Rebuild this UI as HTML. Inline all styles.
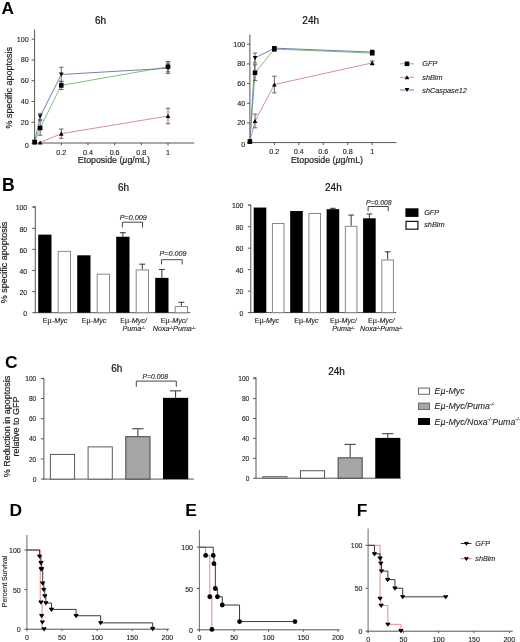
<!DOCTYPE html>
<html><head><meta charset="utf-8"><style>
html,body{margin:0;padding:0;background:#fff;width:520px;height:642px;overflow:hidden}
svg{display:block;filter:blur(0.3px);font-family:"Liberation Sans",sans-serif}
</style></head><body>
<svg width="520" height="642" viewBox="0 0 520 642">
<rect width="520" height="642" fill="#fff"/>
<text x="1.60" y="14.30" font-size="17.2" text-anchor="start" font-style="normal" font-weight="bold" fill="#000" >A</text>
<line x1="34.60" y1="29.50" x2="34.60" y2="143.50" stroke="#555" stroke-width="1"/>
<line x1="34.10" y1="143.00" x2="194.30" y2="143.00" stroke="#555" stroke-width="1"/>
<line x1="31.60" y1="143.00" x2="34.60" y2="143.00" stroke="#555" stroke-width="1"/>
<text x="28.70" y="147.50" font-size="7.2" text-anchor="end" font-style="normal" font-weight="normal" fill="#222" stroke="#222" stroke-width="0.12" >0</text>
<line x1="31.60" y1="122.24" x2="34.60" y2="122.24" stroke="#555" stroke-width="1"/>
<text x="28.70" y="124.74" font-size="7.2" text-anchor="end" font-style="normal" font-weight="normal" fill="#222" stroke="#222" stroke-width="0.12" >20</text>
<line x1="31.60" y1="101.48" x2="34.60" y2="101.48" stroke="#555" stroke-width="1"/>
<text x="28.70" y="103.98" font-size="7.2" text-anchor="end" font-style="normal" font-weight="normal" fill="#222" stroke="#222" stroke-width="0.12" >40</text>
<line x1="31.60" y1="80.72" x2="34.60" y2="80.72" stroke="#555" stroke-width="1"/>
<text x="28.70" y="83.22" font-size="7.2" text-anchor="end" font-style="normal" font-weight="normal" fill="#222" stroke="#222" stroke-width="0.12" >60</text>
<line x1="31.60" y1="59.96" x2="34.60" y2="59.96" stroke="#555" stroke-width="1"/>
<text x="28.70" y="62.46" font-size="7.2" text-anchor="end" font-style="normal" font-weight="normal" fill="#222" stroke="#222" stroke-width="0.12" >80</text>
<line x1="31.60" y1="39.20" x2="34.60" y2="39.20" stroke="#555" stroke-width="1"/>
<text x="28.70" y="41.70" font-size="7.2" text-anchor="end" font-style="normal" font-weight="normal" fill="#222" stroke="#222" stroke-width="0.12" >100</text>
<line x1="61.28" y1="143.00" x2="61.28" y2="145.50" stroke="#555" stroke-width="1"/>
<text x="61.28" y="154.80" font-size="7.2" text-anchor="middle" font-style="normal" font-weight="normal" fill="#222" stroke="#222" stroke-width="0.12" >0.2</text>
<line x1="87.96" y1="143.00" x2="87.96" y2="145.50" stroke="#555" stroke-width="1"/>
<text x="87.96" y="154.80" font-size="7.2" text-anchor="middle" font-style="normal" font-weight="normal" fill="#222" stroke="#222" stroke-width="0.12" >0.4</text>
<line x1="114.64" y1="143.00" x2="114.64" y2="145.50" stroke="#555" stroke-width="1"/>
<text x="114.64" y="154.80" font-size="7.2" text-anchor="middle" font-style="normal" font-weight="normal" fill="#222" stroke="#222" stroke-width="0.12" >0.6</text>
<line x1="141.32" y1="143.00" x2="141.32" y2="145.50" stroke="#555" stroke-width="1"/>
<text x="141.32" y="154.80" font-size="7.2" text-anchor="middle" font-style="normal" font-weight="normal" fill="#222" stroke="#222" stroke-width="0.12" >0.8</text>
<line x1="168.00" y1="143.00" x2="168.00" y2="145.50" stroke="#555" stroke-width="1"/>
<text x="168.00" y="154.80" font-size="7.2" text-anchor="middle" font-style="normal" font-weight="normal" fill="#222" stroke="#222" stroke-width="0.12" >1</text>
<text x="113.90" y="163.40" font-size="8.8" text-anchor="middle" font-style="normal" font-weight="normal" fill="#222" stroke="#222" stroke-width="0.2" >Etoposide (<tspan font-style="italic">&#181;</tspan>g/mL)</text>
<text x="100.60" y="24.40" font-size="10" text-anchor="middle" font-style="normal" font-weight="normal" fill="#111" stroke="#111" stroke-width="0.2" >6h</text>
<path d="M34.60,142.48 L40.20,142.48 L61.28,133.66 L168.00,116.01" fill="none" stroke="#d48cb4" stroke-width="1"/>
<path d="M34.60,141.96 L40.20,127.95 L61.28,85.39 L168.00,66.71" fill="none" stroke="#80c080" stroke-width="1"/>
<path d="M34.60,141.96 L40.20,116.53 L61.28,74.49 L168.00,68.26" fill="none" stroke="#7480b0" stroke-width="1"/>
<line x1="61.28" y1="138.33" x2="61.28" y2="128.99" stroke="#444" stroke-width="0.8"/>
<line x1="59.08" y1="128.99" x2="63.48" y2="128.99" stroke="#444" stroke-width="0.8"/>
<line x1="59.08" y1="138.33" x2="63.48" y2="138.33" stroke="#444" stroke-width="0.8"/>
<line x1="168.00" y1="123.80" x2="168.00" y2="108.23" stroke="#444" stroke-width="0.8"/>
<line x1="165.80" y1="108.23" x2="170.20" y2="108.23" stroke="#444" stroke-width="0.8"/>
<line x1="165.80" y1="123.80" x2="170.20" y2="123.80" stroke="#444" stroke-width="0.8"/>
<line x1="40.20" y1="135.22" x2="40.20" y2="120.68" stroke="#444" stroke-width="0.8"/>
<line x1="38.00" y1="120.68" x2="42.40" y2="120.68" stroke="#444" stroke-width="0.8"/>
<line x1="38.00" y1="135.22" x2="42.40" y2="135.22" stroke="#444" stroke-width="0.8"/>
<line x1="61.28" y1="89.54" x2="61.28" y2="81.24" stroke="#444" stroke-width="0.8"/>
<line x1="59.08" y1="81.24" x2="63.48" y2="81.24" stroke="#444" stroke-width="0.8"/>
<line x1="59.08" y1="89.54" x2="63.48" y2="89.54" stroke="#444" stroke-width="0.8"/>
<line x1="168.00" y1="71.90" x2="168.00" y2="61.52" stroke="#444" stroke-width="0.8"/>
<line x1="165.80" y1="61.52" x2="170.20" y2="61.52" stroke="#444" stroke-width="0.8"/>
<line x1="165.80" y1="71.90" x2="170.20" y2="71.90" stroke="#444" stroke-width="0.8"/>
<line x1="40.20" y1="119.64" x2="40.20" y2="113.42" stroke="#444" stroke-width="0.8"/>
<line x1="38.00" y1="113.42" x2="42.40" y2="113.42" stroke="#444" stroke-width="0.8"/>
<line x1="38.00" y1="119.64" x2="42.40" y2="119.64" stroke="#444" stroke-width="0.8"/>
<line x1="61.28" y1="81.76" x2="61.28" y2="67.23" stroke="#444" stroke-width="0.8"/>
<line x1="59.08" y1="67.23" x2="63.48" y2="67.23" stroke="#444" stroke-width="0.8"/>
<line x1="59.08" y1="81.76" x2="63.48" y2="81.76" stroke="#444" stroke-width="0.8"/>
<line x1="168.00" y1="73.45" x2="168.00" y2="63.07" stroke="#444" stroke-width="0.8"/>
<line x1="165.80" y1="63.07" x2="170.20" y2="63.07" stroke="#444" stroke-width="0.8"/>
<line x1="165.80" y1="73.45" x2="170.20" y2="73.45" stroke="#444" stroke-width="0.8"/>
<path d="M32.30,144.55 L36.90,144.55 L34.60,140.41 Z" fill="#000" stroke="none" stroke-width="1"/>
<path d="M37.90,144.55 L42.50,144.55 L40.20,140.41 Z" fill="#000" stroke="none" stroke-width="1"/>
<path d="M58.98,135.73 L63.58,135.73 L61.28,131.59 Z" fill="#000" stroke="none" stroke-width="1"/>
<path d="M165.70,118.08 L170.30,118.08 L168.00,113.94 Z" fill="#000" stroke="none" stroke-width="1"/>
<rect x="32.30" y="139.66" width="4.60" height="4.60" fill="#000" stroke="none" stroke-width="1"/>
<rect x="37.90" y="125.65" width="4.60" height="4.60" fill="#000" stroke="none" stroke-width="1"/>
<rect x="58.98" y="83.09" width="4.60" height="4.60" fill="#000" stroke="none" stroke-width="1"/>
<rect x="165.70" y="64.41" width="4.60" height="4.60" fill="#000" stroke="none" stroke-width="1"/>
<path d="M32.30,139.89 L36.90,139.89 L34.60,144.03 Z" fill="#000" stroke="none" stroke-width="1"/>
<path d="M37.90,114.46 L42.50,114.46 L40.20,118.60 Z" fill="#000" stroke="none" stroke-width="1"/>
<path d="M58.98,72.42 L63.58,72.42 L61.28,76.56 Z" fill="#000" stroke="none" stroke-width="1"/>
<path d="M165.70,66.19 L170.30,66.19 L168.00,70.33 Z" fill="#000" stroke="none" stroke-width="1"/>
<line x1="249.90" y1="34.60" x2="249.90" y2="143.10" stroke="#555" stroke-width="1"/>
<line x1="249.40" y1="142.60" x2="396.50" y2="142.60" stroke="#555" stroke-width="1"/>
<line x1="246.90" y1="142.60" x2="249.90" y2="142.60" stroke="#555" stroke-width="1"/>
<text x="245.30" y="147.10" font-size="7.2" text-anchor="end" font-style="normal" font-weight="normal" fill="#222" stroke="#222" stroke-width="0.12" >0</text>
<line x1="246.90" y1="122.92" x2="249.90" y2="122.92" stroke="#555" stroke-width="1"/>
<text x="245.30" y="125.42" font-size="7.2" text-anchor="end" font-style="normal" font-weight="normal" fill="#222" stroke="#222" stroke-width="0.12" >20</text>
<line x1="246.90" y1="103.24" x2="249.90" y2="103.24" stroke="#555" stroke-width="1"/>
<text x="245.30" y="105.74" font-size="7.2" text-anchor="end" font-style="normal" font-weight="normal" fill="#222" stroke="#222" stroke-width="0.12" >40</text>
<line x1="246.90" y1="83.56" x2="249.90" y2="83.56" stroke="#555" stroke-width="1"/>
<text x="245.30" y="86.06" font-size="7.2" text-anchor="end" font-style="normal" font-weight="normal" fill="#222" stroke="#222" stroke-width="0.12" >60</text>
<line x1="246.90" y1="63.88" x2="249.90" y2="63.88" stroke="#555" stroke-width="1"/>
<text x="245.30" y="66.38" font-size="7.2" text-anchor="end" font-style="normal" font-weight="normal" fill="#222" stroke="#222" stroke-width="0.12" >80</text>
<line x1="246.90" y1="44.20" x2="249.90" y2="44.20" stroke="#555" stroke-width="1"/>
<text x="245.30" y="46.70" font-size="7.2" text-anchor="end" font-style="normal" font-weight="normal" fill="#222" stroke="#222" stroke-width="0.12" >100</text>
<line x1="274.36" y1="142.60" x2="274.36" y2="145.10" stroke="#555" stroke-width="1"/>
<text x="274.36" y="154.40" font-size="7.2" text-anchor="middle" font-style="normal" font-weight="normal" fill="#222" stroke="#222" stroke-width="0.12" >0.2</text>
<line x1="298.82" y1="142.60" x2="298.82" y2="145.10" stroke="#555" stroke-width="1"/>
<text x="298.82" y="154.40" font-size="7.2" text-anchor="middle" font-style="normal" font-weight="normal" fill="#222" stroke="#222" stroke-width="0.12" >0.4</text>
<line x1="323.28" y1="142.60" x2="323.28" y2="145.10" stroke="#555" stroke-width="1"/>
<text x="323.28" y="154.40" font-size="7.2" text-anchor="middle" font-style="normal" font-weight="normal" fill="#222" stroke="#222" stroke-width="0.12" >0.6</text>
<line x1="347.74" y1="142.60" x2="347.74" y2="145.10" stroke="#555" stroke-width="1"/>
<text x="347.74" y="154.40" font-size="7.2" text-anchor="middle" font-style="normal" font-weight="normal" fill="#222" stroke="#222" stroke-width="0.12" >0.8</text>
<line x1="372.20" y1="142.60" x2="372.20" y2="145.10" stroke="#555" stroke-width="1"/>
<text x="372.20" y="154.40" font-size="7.2" text-anchor="middle" font-style="normal" font-weight="normal" fill="#222" stroke="#222" stroke-width="0.12" >1</text>
<text x="327.00" y="163.00" font-size="8.8" text-anchor="middle" font-style="normal" font-weight="normal" fill="#222" stroke="#222" stroke-width="0.2" >Etoposide (<tspan font-style="italic">&#181;</tspan>g/mL)</text>
<text x="310.70" y="24.40" font-size="10" text-anchor="middle" font-style="normal" font-weight="normal" fill="#111" stroke="#111" stroke-width="0.2" >24h</text>
<path d="M249.90,141.62 L255.04,120.95 L274.36,84.54 L372.20,62.90" fill="none" stroke="#d48cb4" stroke-width="1"/>
<path d="M249.90,141.62 L255.04,72.74 L274.36,49.12 L372.20,53.06" fill="none" stroke="#80c080" stroke-width="1"/>
<path d="M249.90,141.62 L255.04,57.98 L274.36,48.14 L372.20,52.07" fill="none" stroke="#7480b0" stroke-width="1"/>
<line x1="255.04" y1="127.84" x2="255.04" y2="114.06" stroke="#444" stroke-width="0.8"/>
<line x1="252.84" y1="114.06" x2="257.24" y2="114.06" stroke="#444" stroke-width="0.8"/>
<line x1="252.84" y1="127.84" x2="257.24" y2="127.84" stroke="#444" stroke-width="0.8"/>
<line x1="274.36" y1="92.91" x2="274.36" y2="76.18" stroke="#444" stroke-width="0.8"/>
<line x1="272.16" y1="76.18" x2="276.56" y2="76.18" stroke="#444" stroke-width="0.8"/>
<line x1="272.16" y1="92.91" x2="276.56" y2="92.91" stroke="#444" stroke-width="0.8"/>
<line x1="372.20" y1="64.86" x2="372.20" y2="60.93" stroke="#444" stroke-width="0.8"/>
<line x1="370.00" y1="60.93" x2="374.40" y2="60.93" stroke="#444" stroke-width="0.8"/>
<line x1="370.00" y1="64.86" x2="374.40" y2="64.86" stroke="#444" stroke-width="0.8"/>
<line x1="255.04" y1="80.61" x2="255.04" y2="64.86" stroke="#444" stroke-width="0.8"/>
<line x1="252.84" y1="64.86" x2="257.24" y2="64.86" stroke="#444" stroke-width="0.8"/>
<line x1="252.84" y1="80.61" x2="257.24" y2="80.61" stroke="#444" stroke-width="0.8"/>
<line x1="274.36" y1="51.09" x2="274.36" y2="47.15" stroke="#444" stroke-width="0.8"/>
<line x1="272.16" y1="47.15" x2="276.56" y2="47.15" stroke="#444" stroke-width="0.8"/>
<line x1="272.16" y1="51.09" x2="276.56" y2="51.09" stroke="#444" stroke-width="0.8"/>
<line x1="372.20" y1="55.02" x2="372.20" y2="51.09" stroke="#444" stroke-width="0.8"/>
<line x1="370.00" y1="51.09" x2="374.40" y2="51.09" stroke="#444" stroke-width="0.8"/>
<line x1="370.00" y1="55.02" x2="374.40" y2="55.02" stroke="#444" stroke-width="0.8"/>
<line x1="255.04" y1="62.90" x2="255.04" y2="53.06" stroke="#444" stroke-width="0.8"/>
<line x1="252.84" y1="53.06" x2="257.24" y2="53.06" stroke="#444" stroke-width="0.8"/>
<line x1="252.84" y1="62.90" x2="257.24" y2="62.90" stroke="#444" stroke-width="0.8"/>
<line x1="274.36" y1="49.12" x2="274.36" y2="47.15" stroke="#444" stroke-width="0.8"/>
<line x1="272.16" y1="47.15" x2="276.56" y2="47.15" stroke="#444" stroke-width="0.8"/>
<line x1="272.16" y1="49.12" x2="276.56" y2="49.12" stroke="#444" stroke-width="0.8"/>
<line x1="372.20" y1="54.04" x2="372.20" y2="50.10" stroke="#444" stroke-width="0.8"/>
<line x1="370.00" y1="50.10" x2="374.40" y2="50.10" stroke="#444" stroke-width="0.8"/>
<line x1="370.00" y1="54.04" x2="374.40" y2="54.04" stroke="#444" stroke-width="0.8"/>
<path d="M247.60,143.69 L252.20,143.69 L249.90,139.55 Z" fill="#000" stroke="none" stroke-width="1"/>
<path d="M252.74,123.02 L257.34,123.02 L255.04,118.88 Z" fill="#000" stroke="none" stroke-width="1"/>
<path d="M272.06,86.61 L276.66,86.61 L274.36,82.47 Z" fill="#000" stroke="none" stroke-width="1"/>
<path d="M369.90,64.97 L374.50,64.97 L372.20,60.83 Z" fill="#000" stroke="none" stroke-width="1"/>
<rect x="247.60" y="139.32" width="4.60" height="4.60" fill="#000" stroke="none" stroke-width="1"/>
<rect x="252.74" y="70.44" width="4.60" height="4.60" fill="#000" stroke="none" stroke-width="1"/>
<rect x="272.06" y="46.82" width="4.60" height="4.60" fill="#000" stroke="none" stroke-width="1"/>
<rect x="369.90" y="50.76" width="4.60" height="4.60" fill="#000" stroke="none" stroke-width="1"/>
<path d="M247.60,139.55 L252.20,139.55 L249.90,143.69 Z" fill="#000" stroke="none" stroke-width="1"/>
<path d="M252.74,55.91 L257.34,55.91 L255.04,60.05 Z" fill="#000" stroke="none" stroke-width="1"/>
<path d="M272.06,46.07 L276.66,46.07 L274.36,50.21 Z" fill="#000" stroke="none" stroke-width="1"/>
<path d="M369.90,50.00 L374.50,50.00 L372.20,54.14 Z" fill="#000" stroke="none" stroke-width="1"/>
<text x="0" y="0" font-size="9" text-anchor="middle" fill="#222" stroke="#222" stroke-width="0.2" transform="translate(11.60,87.70) rotate(-90)">% specific apoptosis</text>
<line x1="400.00" y1="63.80" x2="414.00" y2="63.80" stroke="#80c080" stroke-width="1"/>
<rect x="404.70" y="61.50" width="4.60" height="4.60" fill="#000" stroke="none" stroke-width="1"/>
<text x="422.30" y="66.40" font-size="7.3" text-anchor="start" font-style="italic" font-weight="normal" fill="#222" stroke="#222" stroke-width="0.12" >GFP</text>
<line x1="400.00" y1="77.30" x2="414.00" y2="77.30" stroke="#d48cb4" stroke-width="1"/>
<path d="M404.70,79.37 L409.30,79.37 L407.00,75.23 Z" fill="#000" stroke="none" stroke-width="1"/>
<text x="422.30" y="79.90" font-size="7.3" text-anchor="start" font-style="italic" font-weight="normal" fill="#222" stroke="#222" stroke-width="0.12" >shBim</text>
<line x1="400.00" y1="90.00" x2="414.00" y2="90.00" stroke="#7480b0" stroke-width="1"/>
<path d="M404.70,87.93 L409.30,87.93 L407.00,92.07 Z" fill="#000" stroke="none" stroke-width="1"/>
<text x="422.30" y="92.60" font-size="7.3" text-anchor="start" font-style="italic" font-weight="normal" fill="#222" stroke="#222" stroke-width="0.12" >shCaspase12</text>
<text x="2.00" y="191.40" font-size="17.6" text-anchor="start" font-style="normal" font-weight="bold" fill="#000" >B</text>
<line x1="35.30" y1="206.30" x2="35.30" y2="313.20" stroke="#555" stroke-width="1"/>
<line x1="34.80" y1="312.70" x2="190.20" y2="312.70" stroke="#555" stroke-width="1"/>
<line x1="32.80" y1="206.80" x2="35.30" y2="206.80" stroke="#555" stroke-width="1"/>
<line x1="32.30" y1="312.70" x2="35.30" y2="312.70" stroke="#555" stroke-width="1"/>
<text x="27.20" y="315.90" font-size="6.9" text-anchor="end" font-style="normal" font-weight="normal" fill="#222" stroke="#222" stroke-width="0.12" >0</text>
<line x1="32.30" y1="291.60" x2="35.30" y2="291.60" stroke="#555" stroke-width="1"/>
<text x="27.20" y="294.80" font-size="6.9" text-anchor="end" font-style="normal" font-weight="normal" fill="#222" stroke="#222" stroke-width="0.12" >20</text>
<line x1="32.30" y1="270.50" x2="35.30" y2="270.50" stroke="#555" stroke-width="1"/>
<text x="27.20" y="273.70" font-size="6.9" text-anchor="end" font-style="normal" font-weight="normal" fill="#222" stroke="#222" stroke-width="0.12" >40</text>
<line x1="32.30" y1="249.40" x2="35.30" y2="249.40" stroke="#555" stroke-width="1"/>
<text x="27.20" y="252.60" font-size="6.9" text-anchor="end" font-style="normal" font-weight="normal" fill="#222" stroke="#222" stroke-width="0.12" >60</text>
<line x1="32.30" y1="228.30" x2="35.30" y2="228.30" stroke="#555" stroke-width="1"/>
<text x="27.20" y="231.50" font-size="6.9" text-anchor="end" font-style="normal" font-weight="normal" fill="#222" stroke="#222" stroke-width="0.12" >80</text>
<line x1="32.30" y1="207.20" x2="35.30" y2="207.20" stroke="#555" stroke-width="1"/>
<text x="27.20" y="210.40" font-size="6.9" text-anchor="end" font-style="normal" font-weight="normal" fill="#222" stroke="#222" stroke-width="0.12" >100</text>
<rect x="38.20" y="234.63" width="13.30" height="78.07" fill="#000" stroke="none" stroke-width="1"/>
<rect x="58.20" y="251.38" width="12.30" height="61.32" fill="#fff" stroke="#888" stroke-width="1"/>
<rect x="77.20" y="255.31" width="13.30" height="57.39" fill="#000" stroke="none" stroke-width="1"/>
<rect x="97.20" y="274.16" width="12.30" height="38.53" fill="#fff" stroke="#888" stroke-width="1"/>
<line x1="122.85" y1="236.74" x2="122.85" y2="232.73" stroke="#333" stroke-width="1"/>
<line x1="119.86" y1="232.73" x2="125.84" y2="232.73" stroke="#333" stroke-width="1"/>
<rect x="116.20" y="236.74" width="13.30" height="75.96" fill="#000" stroke="none" stroke-width="1"/>
<line x1="142.35" y1="269.44" x2="142.35" y2="264.17" stroke="#333" stroke-width="1"/>
<line x1="139.36" y1="264.17" x2="145.34" y2="264.17" stroke="#333" stroke-width="1"/>
<rect x="136.20" y="269.94" width="12.30" height="42.75" fill="#fff" stroke="#888" stroke-width="1"/>
<line x1="161.85" y1="277.88" x2="161.85" y2="269.44" stroke="#333" stroke-width="1"/>
<line x1="158.86" y1="269.44" x2="164.84" y2="269.44" stroke="#333" stroke-width="1"/>
<rect x="155.20" y="277.88" width="13.30" height="34.81" fill="#000" stroke="none" stroke-width="1"/>
<line x1="181.35" y1="306.05" x2="181.35" y2="302.26" stroke="#333" stroke-width="1"/>
<line x1="178.36" y1="302.26" x2="184.34" y2="302.26" stroke="#333" stroke-width="1"/>
<rect x="175.20" y="306.55" width="12.30" height="6.15" fill="#fff" stroke="#888" stroke-width="1"/>
<line x1="250.80" y1="204.60" x2="250.80" y2="313.10" stroke="#555" stroke-width="1"/>
<line x1="250.30" y1="312.60" x2="396.20" y2="312.60" stroke="#555" stroke-width="1"/>
<line x1="248.30" y1="205.10" x2="250.80" y2="205.10" stroke="#555" stroke-width="1"/>
<line x1="247.80" y1="312.60" x2="250.80" y2="312.60" stroke="#555" stroke-width="1"/>
<text x="243.40" y="315.80" font-size="6.9" text-anchor="end" font-style="normal" font-weight="normal" fill="#222" stroke="#222" stroke-width="0.12" >0</text>
<line x1="247.80" y1="291.12" x2="250.80" y2="291.12" stroke="#555" stroke-width="1"/>
<text x="243.40" y="294.32" font-size="6.9" text-anchor="end" font-style="normal" font-weight="normal" fill="#222" stroke="#222" stroke-width="0.12" >20</text>
<line x1="247.80" y1="269.64" x2="250.80" y2="269.64" stroke="#555" stroke-width="1"/>
<text x="243.40" y="272.84" font-size="6.9" text-anchor="end" font-style="normal" font-weight="normal" fill="#222" stroke="#222" stroke-width="0.12" >40</text>
<line x1="247.80" y1="248.16" x2="250.80" y2="248.16" stroke="#555" stroke-width="1"/>
<text x="243.40" y="251.36" font-size="6.9" text-anchor="end" font-style="normal" font-weight="normal" fill="#222" stroke="#222" stroke-width="0.12" >60</text>
<line x1="247.80" y1="226.68" x2="250.80" y2="226.68" stroke="#555" stroke-width="1"/>
<text x="243.40" y="229.88" font-size="6.9" text-anchor="end" font-style="normal" font-weight="normal" fill="#222" stroke="#222" stroke-width="0.12" >80</text>
<line x1="247.80" y1="205.20" x2="250.80" y2="205.20" stroke="#555" stroke-width="1"/>
<text x="243.40" y="208.40" font-size="6.9" text-anchor="end" font-style="normal" font-weight="normal" fill="#222" stroke="#222" stroke-width="0.12" >100</text>
<rect x="253.70" y="207.56" width="12.60" height="105.04" fill="#000" stroke="none" stroke-width="1"/>
<rect x="272.43" y="223.53" width="11.60" height="89.07" fill="#fff" stroke="#888" stroke-width="1"/>
<rect x="290.16" y="211.00" width="12.60" height="101.60" fill="#000" stroke="none" stroke-width="1"/>
<rect x="308.89" y="213.43" width="11.60" height="99.17" fill="#fff" stroke="#888" stroke-width="1"/>
<line x1="332.92" y1="209.17" x2="332.92" y2="208.31" stroke="#333" stroke-width="1"/>
<line x1="330.09" y1="208.31" x2="335.75" y2="208.31" stroke="#333" stroke-width="1"/>
<rect x="326.62" y="209.17" width="12.60" height="103.43" fill="#000" stroke="none" stroke-width="1"/>
<line x1="351.15" y1="225.82" x2="351.15" y2="215.08" stroke="#333" stroke-width="1"/>
<line x1="348.32" y1="215.08" x2="353.99" y2="215.08" stroke="#333" stroke-width="1"/>
<rect x="345.35" y="226.32" width="11.60" height="86.28" fill="#fff" stroke="#888" stroke-width="1"/>
<line x1="369.38" y1="218.30" x2="369.38" y2="214.01" stroke="#333" stroke-width="1"/>
<line x1="366.55" y1="214.01" x2="372.21" y2="214.01" stroke="#333" stroke-width="1"/>
<rect x="363.08" y="218.30" width="12.60" height="94.30" fill="#000" stroke="none" stroke-width="1"/>
<line x1="387.61" y1="259.54" x2="387.61" y2="251.81" stroke="#333" stroke-width="1"/>
<line x1="384.78" y1="251.81" x2="390.44" y2="251.81" stroke="#333" stroke-width="1"/>
<rect x="381.81" y="260.04" width="11.60" height="52.56" fill="#fff" stroke="#888" stroke-width="1"/>
<text x="123.50" y="190.80" font-size="10" text-anchor="middle" font-style="normal" font-weight="normal" fill="#111" stroke="#111" stroke-width="0.2" >6h</text>
<text x="333.40" y="191.00" font-size="10" text-anchor="middle" font-style="normal" font-weight="normal" fill="#111" stroke="#111" stroke-width="0.2" >24h</text>
<text x="55.10" y="322.80" font-size="7.2" text-anchor="middle" font-style="normal" font-weight="normal" fill="#222" stroke="#222" stroke-width="0.12" >E&#181;-<tspan font-style="italic">Myc</tspan></text>
<text x="94.10" y="322.80" font-size="7.2" text-anchor="middle" font-style="normal" font-weight="normal" fill="#222" stroke="#222" stroke-width="0.12" >E&#181;-<tspan font-style="italic">Myc</tspan></text>
<text x="133.60" y="322.80" font-size="7.2" text-anchor="middle" font-style="normal" font-weight="normal" fill="#222" stroke="#222" stroke-width="0.12" >E&#181;-<tspan font-style="italic">Myc/</tspan></text>
<text x="133.60" y="331.40" font-size="7.2" text-anchor="middle" font-style="normal" font-weight="normal" fill="#222" stroke="#222" stroke-width="0.12" ><tspan font-style="italic">Puma</tspan><tspan font-size="3.7" dy="-2.6">-/-</tspan></text>
<text x="174.10" y="322.80" font-size="7.2" text-anchor="middle" font-style="normal" font-weight="normal" fill="#222" stroke="#222" stroke-width="0.12" >E&#181;-<tspan font-style="italic">Myc/</tspan></text>
<text x="174.10" y="331.40" font-size="7.2" text-anchor="middle" font-style="normal" font-weight="normal" fill="#222" stroke="#222" stroke-width="0.12" ><tspan font-style="italic">Noxa</tspan><tspan font-size="3.7" dy="-2.6">-/-</tspan><tspan font-style="italic" dy="2.6">Puma</tspan><tspan font-size="3.7" dy="-2.6">-/-</tspan></text>
<text x="266.96" y="322.80" font-size="7.2" text-anchor="middle" font-style="normal" font-weight="normal" fill="#222" stroke="#222" stroke-width="0.12" >E&#181;-<tspan font-style="italic">Myc</tspan></text>
<text x="306.42" y="322.80" font-size="7.2" text-anchor="middle" font-style="normal" font-weight="normal" fill="#222" stroke="#222" stroke-width="0.12" >E&#181;-<tspan font-style="italic">Myc</tspan></text>
<text x="343.38" y="322.80" font-size="7.2" text-anchor="middle" font-style="normal" font-weight="normal" fill="#222" stroke="#222" stroke-width="0.12" >E&#181;-<tspan font-style="italic">Myc/</tspan></text>
<text x="343.38" y="331.40" font-size="7.2" text-anchor="middle" font-style="normal" font-weight="normal" fill="#222" stroke="#222" stroke-width="0.12" ><tspan font-style="italic">Puma</tspan><tspan font-size="3.7" dy="-2.6">-/-</tspan></text>
<text x="381.34" y="322.80" font-size="7.2" text-anchor="middle" font-style="normal" font-weight="normal" fill="#222" stroke="#222" stroke-width="0.12" >E&#181;-<tspan font-style="italic">Myc/</tspan></text>
<text x="381.34" y="331.40" font-size="7.2" text-anchor="middle" font-style="normal" font-weight="normal" fill="#222" stroke="#222" stroke-width="0.12" ><tspan font-style="italic">Noxa</tspan><tspan font-size="3.7" dy="-2.6">-/-</tspan><tspan font-style="italic" dy="2.6">Puma</tspan><tspan font-size="3.7" dy="-2.6">-/-</tspan></text>
<path d="M122.40,227.50 L122.40,222.20 L142.50,222.20 L142.50,227.50" fill="none" stroke="#333" stroke-width="0.9"/>
<text x="133.30" y="219.50" font-size="7.2" text-anchor="middle" font-style="italic" font-weight="normal" fill="#222" stroke="#222" stroke-width="0.12" >P=0.009</text>
<path d="M161.50,264.50 L161.50,259.70 L182.20,259.70 L182.20,264.50" fill="none" stroke="#333" stroke-width="0.9"/>
<text x="173.00" y="255.50" font-size="7.2" text-anchor="middle" font-style="italic" font-weight="normal" fill="#222" stroke="#222" stroke-width="0.12" >P=0.009</text>
<path d="M368.10,211.20 L368.10,206.50 L388.20,206.50 L388.20,211.20" fill="none" stroke="#333" stroke-width="0.9"/>
<text x="378.80" y="204.80" font-size="6.8" text-anchor="middle" font-style="italic" font-weight="normal" fill="#222" stroke="#222" stroke-width="0.12" >P=0.008</text>
<rect x="405.40" y="208.30" width="13.10" height="8.60" fill="#000" stroke="none" stroke-width="1"/>
<rect x="406.00" y="221.40" width="11.90" height="7.80" fill="#fff" stroke="#111" stroke-width="1.2"/>
<text x="424.20" y="214.70" font-size="7.3" text-anchor="start" font-style="italic" font-weight="normal" fill="#222" stroke="#222" stroke-width="0.12" >GFP</text>
<text x="424.20" y="227.20" font-size="7.3" text-anchor="start" font-style="italic" font-weight="normal" fill="#222" stroke="#222" stroke-width="0.12" >shBim</text>
<text x="0" y="0" font-size="9" text-anchor="middle" fill="#222" stroke="#222" stroke-width="0.2" transform="translate(6.60,262.50) rotate(-90)">% specific apoptosis</text>
<text x="5.00" y="367.60" font-size="17.4" text-anchor="start" font-style="normal" font-weight="bold" fill="#000" >C</text>
<line x1="43.90" y1="378.10" x2="43.90" y2="479.60" stroke="#555" stroke-width="1"/>
<line x1="43.40" y1="479.10" x2="193.80" y2="479.10" stroke="#555" stroke-width="1"/>
<line x1="41.40" y1="378.60" x2="43.90" y2="378.60" stroke="#555" stroke-width="1"/>
<line x1="40.90" y1="479.10" x2="43.90" y2="479.10" stroke="#555" stroke-width="1"/>
<text x="36.30" y="481.70" font-size="6.6" text-anchor="end" font-style="normal" font-weight="normal" fill="#222" stroke="#222" stroke-width="0.12" >0</text>
<line x1="40.90" y1="458.96" x2="43.90" y2="458.96" stroke="#555" stroke-width="1"/>
<text x="36.30" y="461.56" font-size="6.6" text-anchor="end" font-style="normal" font-weight="normal" fill="#222" stroke="#222" stroke-width="0.12" >20</text>
<line x1="40.90" y1="438.82" x2="43.90" y2="438.82" stroke="#555" stroke-width="1"/>
<text x="36.30" y="441.42" font-size="6.6" text-anchor="end" font-style="normal" font-weight="normal" fill="#222" stroke="#222" stroke-width="0.12" >40</text>
<line x1="40.90" y1="418.68" x2="43.90" y2="418.68" stroke="#555" stroke-width="1"/>
<text x="36.30" y="421.28" font-size="6.6" text-anchor="end" font-style="normal" font-weight="normal" fill="#222" stroke="#222" stroke-width="0.12" >60</text>
<line x1="40.90" y1="398.54" x2="43.90" y2="398.54" stroke="#555" stroke-width="1"/>
<text x="36.30" y="401.14" font-size="6.6" text-anchor="end" font-style="normal" font-weight="normal" fill="#222" stroke="#222" stroke-width="0.12" >80</text>
<line x1="40.90" y1="378.40" x2="43.90" y2="378.40" stroke="#555" stroke-width="1"/>
<text x="36.30" y="381.00" font-size="6.6" text-anchor="end" font-style="normal" font-weight="normal" fill="#222" stroke="#222" stroke-width="0.12" >100</text>
<rect x="50.40" y="454.43" width="24.20" height="24.67" fill="#fff" stroke="#5a5a5a" stroke-width="1"/>
<rect x="88.10" y="446.87" width="24.20" height="32.23" fill="#fff" stroke="#5a5a5a" stroke-width="1"/>
<line x1="137.90" y1="436.20" x2="137.90" y2="428.75" stroke="#333" stroke-width="1"/>
<line x1="132.23" y1="428.75" x2="143.57" y2="428.75" stroke="#333" stroke-width="1"/>
<rect x="125.80" y="436.70" width="24.20" height="42.40" fill="#a6a6a6" stroke="#444" stroke-width="1"/>
<line x1="175.60" y1="397.84" x2="175.60" y2="390.89" stroke="#333" stroke-width="1"/>
<line x1="169.93" y1="390.89" x2="181.27" y2="390.89" stroke="#333" stroke-width="1"/>
<rect x="163.00" y="397.84" width="25.20" height="81.26" fill="#000" stroke="none" stroke-width="1"/>
<line x1="256.00" y1="377.30" x2="256.00" y2="478.70" stroke="#555" stroke-width="1"/>
<line x1="255.50" y1="478.20" x2="400.80" y2="478.20" stroke="#555" stroke-width="1"/>
<line x1="253.50" y1="377.80" x2="256.00" y2="377.80" stroke="#555" stroke-width="1"/>
<line x1="253.00" y1="478.20" x2="256.00" y2="478.20" stroke="#555" stroke-width="1"/>
<text x="249.30" y="480.80" font-size="6.6" text-anchor="end" font-style="normal" font-weight="normal" fill="#222" stroke="#222" stroke-width="0.12" >0</text>
<line x1="253.00" y1="458.30" x2="256.00" y2="458.30" stroke="#555" stroke-width="1"/>
<text x="249.30" y="460.90" font-size="6.6" text-anchor="end" font-style="normal" font-weight="normal" fill="#222" stroke="#222" stroke-width="0.12" >20</text>
<line x1="253.00" y1="438.40" x2="256.00" y2="438.40" stroke="#555" stroke-width="1"/>
<text x="249.30" y="441.00" font-size="6.6" text-anchor="end" font-style="normal" font-weight="normal" fill="#222" stroke="#222" stroke-width="0.12" >40</text>
<line x1="253.00" y1="418.50" x2="256.00" y2="418.50" stroke="#555" stroke-width="1"/>
<text x="249.30" y="421.10" font-size="6.6" text-anchor="end" font-style="normal" font-weight="normal" fill="#222" stroke="#222" stroke-width="0.12" >60</text>
<line x1="253.00" y1="398.60" x2="256.00" y2="398.60" stroke="#555" stroke-width="1"/>
<text x="249.30" y="401.20" font-size="6.6" text-anchor="end" font-style="normal" font-weight="normal" fill="#222" stroke="#222" stroke-width="0.12" >80</text>
<line x1="253.00" y1="378.70" x2="256.00" y2="378.70" stroke="#555" stroke-width="1"/>
<text x="249.30" y="381.30" font-size="6.6" text-anchor="end" font-style="normal" font-weight="normal" fill="#222" stroke="#222" stroke-width="0.12" >100</text>
<rect x="262.80" y="476.71" width="24.10" height="1.49" fill="#fff" stroke="#555" stroke-width="1"/>
<rect x="300.45" y="470.74" width="24.10" height="7.46" fill="#fff" stroke="#555" stroke-width="1"/>
<line x1="350.15" y1="457.31" x2="350.15" y2="444.37" stroke="#333" stroke-width="1"/>
<line x1="344.50" y1="444.37" x2="355.80" y2="444.37" stroke="#333" stroke-width="1"/>
<rect x="338.10" y="457.81" width="24.10" height="20.39" fill="#a6a6a6" stroke="#444" stroke-width="1"/>
<line x1="387.80" y1="437.90" x2="387.80" y2="433.72" stroke="#333" stroke-width="1"/>
<line x1="382.15" y1="433.72" x2="393.45" y2="433.72" stroke="#333" stroke-width="1"/>
<rect x="375.25" y="437.90" width="25.10" height="40.30" fill="#000" stroke="none" stroke-width="1"/>
<text x="116.70" y="372.30" font-size="10" text-anchor="middle" font-style="normal" font-weight="normal" fill="#111" stroke="#111" stroke-width="0.2" >6h</text>
<text x="336.50" y="374.80" font-size="10" text-anchor="middle" font-style="normal" font-weight="normal" fill="#111" stroke="#111" stroke-width="0.2" >24h</text>
<path d="M136.30,386.80 L136.30,381.10 L176.30,381.10 L176.30,386.80" fill="none" stroke="#333" stroke-width="0.9"/>
<text x="155.30" y="378.80" font-size="6.8" text-anchor="middle" font-style="italic" font-weight="normal" fill="#222" stroke="#222" stroke-width="0.12" >P=0.008</text>
<text x="0" y="0" font-size="9" text-anchor="middle" fill="#222" stroke="#222" stroke-width="0.2" transform="translate(9.60,426.50) rotate(-90)">% Reduction in apoptosis</text>
<text x="0" y="0" font-size="9" text-anchor="middle" fill="#222" stroke="#222" stroke-width="0.2" transform="translate(18.60,426.50) rotate(-90)">relative to GFP</text>
<rect x="418.50" y="388.10" width="11.00" height="6.20" fill="#fff" stroke="#666" stroke-width="1"/>
<rect x="418.50" y="403.10" width="11.00" height="6.40" fill="#a6a6a6" stroke="#666" stroke-width="1"/>
<rect x="418.00" y="418.00" width="12.00" height="7.00" fill="#000" stroke="none" stroke-width="1"/>
<text x="434.60" y="393.90" font-size="8.8" text-anchor="start" font-style="italic" font-weight="normal" fill="#222" stroke="#222" stroke-width="0.08" >E&#181;-Myc</text>
<text x="434.60" y="408.90" font-size="8.8" text-anchor="start" font-style="italic" font-weight="normal" fill="#222" stroke="#222" stroke-width="0.08" >E&#181;-Myc/Puma<tspan font-size="5" dy="-3.4">-/-</tspan></text>
<text x="434.60" y="424.60" font-size="8.8" text-anchor="start" font-style="italic" font-weight="normal" fill="#222" stroke="#222" stroke-width="0.08" >E&#181;-Myc/Noxa<tspan font-size="5" dy="-3.4">-/-</tspan><tspan dy="3.4">Puma</tspan><tspan font-size="5" dy="-3.4">-/-</tspan></text>
<text x="9.60" y="516.20" font-size="17.4" text-anchor="start" font-style="normal" font-weight="bold" fill="#000" >D</text>
<line x1="26.90" y1="535.00" x2="26.90" y2="629.70" stroke="#777" stroke-width="1.1"/>
<line x1="26.40" y1="629.20" x2="169.20" y2="629.20" stroke="#555" stroke-width="1"/>
<line x1="24.40" y1="629.20" x2="26.90" y2="629.20" stroke="#555" stroke-width="1"/>
<text x="20.70" y="632.20" font-size="7" text-anchor="end" font-style="normal" font-weight="normal" fill="#222" stroke="#222" stroke-width="0.12" >0</text>
<line x1="24.40" y1="589.60" x2="26.90" y2="589.60" stroke="#555" stroke-width="1"/>
<text x="20.70" y="592.60" font-size="7" text-anchor="end" font-style="normal" font-weight="normal" fill="#222" stroke="#222" stroke-width="0.12" >50</text>
<line x1="24.40" y1="550.00" x2="26.90" y2="550.00" stroke="#555" stroke-width="1"/>
<text x="20.70" y="553.00" font-size="7" text-anchor="end" font-style="normal" font-weight="normal" fill="#222" stroke="#222" stroke-width="0.12" >100</text>
<line x1="26.90" y1="629.20" x2="26.90" y2="631.20" stroke="#555" stroke-width="1"/>
<text x="26.90" y="639.80" font-size="7" text-anchor="middle" font-style="normal" font-weight="normal" fill="#222" stroke="#222" stroke-width="0.12" >0</text>
<line x1="62.02" y1="629.20" x2="62.02" y2="631.20" stroke="#555" stroke-width="1"/>
<text x="62.02" y="639.80" font-size="7" text-anchor="middle" font-style="normal" font-weight="normal" fill="#222" stroke="#222" stroke-width="0.12" >50</text>
<line x1="97.15" y1="629.20" x2="97.15" y2="631.20" stroke="#555" stroke-width="1"/>
<text x="97.15" y="639.80" font-size="7" text-anchor="middle" font-style="normal" font-weight="normal" fill="#222" stroke="#222" stroke-width="0.12" >100</text>
<line x1="132.28" y1="629.20" x2="132.28" y2="631.20" stroke="#555" stroke-width="1"/>
<text x="132.28" y="639.80" font-size="7" text-anchor="middle" font-style="normal" font-weight="normal" fill="#222" stroke="#222" stroke-width="0.12" >150</text>
<line x1="167.40" y1="629.20" x2="167.40" y2="631.20" stroke="#555" stroke-width="1"/>
<text x="167.40" y="639.80" font-size="7" text-anchor="middle" font-style="normal" font-weight="normal" fill="#222" stroke="#222" stroke-width="0.12" >200</text>
<text x="0" y="0" font-size="7.1" text-anchor="middle" fill="#222" stroke="#222" stroke-width="0.12" transform="translate(6.90,581.50) rotate(-90)">Percent Survival</text>
<path d="M26.90,550.00 H40.25 V550.00 H40.25 V603.06 H42.00 V603.06 H42.00 V629.20" fill="none" stroke="#d87070" stroke-width="0.8"/>
<path d="M26.90,550.00 H39.55 V556.34 H40.95 V562.67 H41.65 V569.01 H42.71 V583.26 H43.76 V589.60 H44.81 V595.94 H45.87 V603.06 H51.49 V609.40 H76.08 V615.74 H100.66 V622.86 H152.65 V629.20" fill="none" stroke="#222" stroke-width="0.9"/>
<path d="M37.05,555.34 A1.30,1.30 0 0 1 39.55,555.34 A1.30,1.30 0 0 1 42.05,555.34 L39.55,558.84 Z" fill="#000" stroke="none" stroke-width="1"/>
<path d="M38.45,561.67 A1.30,1.30 0 0 1 40.95,561.67 A1.30,1.30 0 0 1 43.45,561.67 L40.95,565.17 Z" fill="#000" stroke="none" stroke-width="1"/>
<path d="M38.66,568.01 A1.30,1.30 0 0 1 41.16,568.01 A1.30,1.30 0 0 1 43.66,568.01 L41.16,571.51 Z" fill="#000" stroke="none" stroke-width="1"/>
<path d="M39.15,568.01 A1.30,1.30 0 0 1 41.65,568.01 A1.30,1.30 0 0 1 44.15,568.01 L41.65,571.51 Z" fill="#000" stroke="none" stroke-width="1"/>
<path d="M40.21,582.26 A1.30,1.30 0 0 1 42.71,582.26 A1.30,1.30 0 0 1 45.21,582.26 L42.71,585.76 Z" fill="#000" stroke="none" stroke-width="1"/>
<path d="M41.26,588.60 A1.30,1.30 0 0 1 43.76,588.60 A1.30,1.30 0 0 1 46.26,588.60 L43.76,592.10 Z" fill="#000" stroke="none" stroke-width="1"/>
<path d="M42.31,594.94 A1.30,1.30 0 0 1 44.81,594.94 A1.30,1.30 0 0 1 47.31,594.94 L44.81,598.44 Z" fill="#000" stroke="none" stroke-width="1"/>
<path d="M43.37,602.06 A1.30,1.30 0 0 1 45.87,602.06 A1.30,1.30 0 0 1 48.37,602.06 L45.87,605.56 Z" fill="#000" stroke="none" stroke-width="1"/>
<path d="M48.99,608.40 A1.30,1.30 0 0 1 51.49,608.40 A1.30,1.30 0 0 1 53.99,608.40 L51.49,611.90 Z" fill="#000" stroke="none" stroke-width="1"/>
<path d="M73.58,614.74 A1.30,1.30 0 0 1 76.08,614.74 A1.30,1.30 0 0 1 78.58,614.74 L76.08,618.24 Z" fill="#000" stroke="none" stroke-width="1"/>
<path d="M98.16,621.86 A1.30,1.30 0 0 1 100.66,621.86 A1.30,1.30 0 0 1 103.16,621.86 L100.66,625.36 Z" fill="#000" stroke="none" stroke-width="1"/>
<path d="M150.15,627.80 A1.30,1.30 0 0 1 152.65,627.80 A1.30,1.30 0 0 1 155.15,627.80 L152.65,631.30 Z" fill="#000" stroke="none" stroke-width="1"/>
<path d="M38.45,601.27 A1.30,1.30 0 0 1 40.95,601.27 A1.30,1.30 0 0 1 43.45,601.27 L40.95,604.77 Z" fill="#000" stroke="none" stroke-width="1"/>
<path d="M39.15,614.74 A1.30,1.30 0 0 1 41.65,614.74 A1.30,1.30 0 0 1 44.15,614.74 L41.65,618.24 Z" fill="#000" stroke="none" stroke-width="1"/>
<path d="M39.85,621.07 A1.30,1.30 0 0 1 42.35,621.07 A1.30,1.30 0 0 1 44.85,621.07 L42.35,624.57 Z" fill="#000" stroke="none" stroke-width="1"/>
<path d="M41.61,627.96 A1.30,1.30 0 0 1 44.11,627.96 A1.30,1.30 0 0 1 46.61,627.96 L44.11,631.46 Z" fill="#000" stroke="none" stroke-width="1"/>
<text x="185.20" y="516.20" font-size="17.4" text-anchor="start" font-style="normal" font-weight="bold" fill="#000" >E</text>
<line x1="199.40" y1="530.10" x2="199.40" y2="630.30" stroke="#777" stroke-width="1.1"/>
<line x1="198.90" y1="629.80" x2="339.60" y2="629.80" stroke="#555" stroke-width="1"/>
<line x1="196.90" y1="629.80" x2="199.40" y2="629.80" stroke="#555" stroke-width="1"/>
<text x="193.00" y="632.80" font-size="7" text-anchor="end" font-style="normal" font-weight="normal" fill="#222" stroke="#222" stroke-width="0.12" >0</text>
<line x1="196.90" y1="588.50" x2="199.40" y2="588.50" stroke="#555" stroke-width="1"/>
<text x="193.00" y="591.50" font-size="7" text-anchor="end" font-style="normal" font-weight="normal" fill="#222" stroke="#222" stroke-width="0.12" >50</text>
<line x1="196.90" y1="547.20" x2="199.40" y2="547.20" stroke="#555" stroke-width="1"/>
<text x="193.00" y="550.20" font-size="7" text-anchor="end" font-style="normal" font-weight="normal" fill="#222" stroke="#222" stroke-width="0.12" >100</text>
<line x1="199.40" y1="629.80" x2="199.40" y2="631.80" stroke="#555" stroke-width="1"/>
<text x="199.40" y="640.40" font-size="7" text-anchor="middle" font-style="normal" font-weight="normal" fill="#222" stroke="#222" stroke-width="0.12" >0</text>
<line x1="234.03" y1="629.80" x2="234.03" y2="631.80" stroke="#555" stroke-width="1"/>
<text x="234.03" y="640.40" font-size="7" text-anchor="middle" font-style="normal" font-weight="normal" fill="#222" stroke="#222" stroke-width="0.12" >50</text>
<line x1="268.65" y1="629.80" x2="268.65" y2="631.80" stroke="#555" stroke-width="1"/>
<text x="268.65" y="640.40" font-size="7" text-anchor="middle" font-style="normal" font-weight="normal" fill="#222" stroke="#222" stroke-width="0.12" >100</text>
<line x1="303.27" y1="629.80" x2="303.27" y2="631.80" stroke="#555" stroke-width="1"/>
<text x="303.27" y="640.40" font-size="7" text-anchor="middle" font-style="normal" font-weight="normal" fill="#222" stroke="#222" stroke-width="0.12" >150</text>
<line x1="337.90" y1="629.80" x2="337.90" y2="631.80" stroke="#555" stroke-width="1"/>
<text x="337.90" y="640.40" font-size="7" text-anchor="middle" font-style="normal" font-weight="normal" fill="#222" stroke="#222" stroke-width="0.12" >200</text>
<path d="M199.40,547.20 H205.63 V547.20 H205.63 V555.46 H209.79 V555.46 H209.79 V596.76 H211.87 V596.76 H211.87 V629.80" fill="none" stroke="#d87070" stroke-width="0.8"/>
<path d="M199.40,547.20 H213.25 V547.20 H213.25 V555.46 H213.94 V555.46 H213.94 V563.72 H215.33 V563.72 H215.33 V588.50 H217.41 V588.50 H217.41 V596.76 H222.25 V596.76 H222.25 V605.02 H239.56 V605.02 H239.56 V621.54 H294.97 V621.54" fill="none" stroke="#222" stroke-width="0.9"/>
<circle cx="205.63" cy="555.46" r="2.4" fill="#000"/>
<circle cx="209.79" cy="596.76" r="2.4" fill="#000"/>
<circle cx="211.87" cy="629.39" r="2.4" fill="#000"/>
<circle cx="213.25" cy="555.46" r="2.4" fill="#000"/>
<circle cx="213.94" cy="563.72" r="2.4" fill="#000"/>
<circle cx="215.33" cy="588.50" r="2.4" fill="#000"/>
<circle cx="217.41" cy="596.76" r="2.4" fill="#000"/>
<circle cx="222.25" cy="605.02" r="2.4" fill="#000"/>
<circle cx="239.56" cy="621.54" r="2.4" fill="#000"/>
<circle cx="294.97" cy="621.54" r="2.4" fill="#000"/>
<text x="356.70" y="516.20" font-size="17.4" text-anchor="start" font-style="normal" font-weight="bold" fill="#000" >F</text>
<line x1="368.10" y1="528.60" x2="368.10" y2="631.70" stroke="#777" stroke-width="1.1"/>
<line x1="367.60" y1="631.20" x2="512.70" y2="631.20" stroke="#555" stroke-width="1"/>
<line x1="365.60" y1="631.20" x2="368.10" y2="631.20" stroke="#555" stroke-width="1"/>
<text x="362.50" y="634.20" font-size="7" text-anchor="end" font-style="normal" font-weight="normal" fill="#222" stroke="#222" stroke-width="0.12" >0</text>
<line x1="365.60" y1="588.25" x2="368.10" y2="588.25" stroke="#555" stroke-width="1"/>
<text x="362.50" y="591.25" font-size="7" text-anchor="end" font-style="normal" font-weight="normal" fill="#222" stroke="#222" stroke-width="0.12" >50</text>
<line x1="365.60" y1="545.30" x2="368.10" y2="545.30" stroke="#555" stroke-width="1"/>
<text x="362.50" y="548.30" font-size="7" text-anchor="end" font-style="normal" font-weight="normal" fill="#222" stroke="#222" stroke-width="0.12" >100</text>
<line x1="368.10" y1="631.20" x2="368.10" y2="633.20" stroke="#555" stroke-width="1"/>
<text x="368.10" y="641.80" font-size="7" text-anchor="middle" font-style="normal" font-weight="normal" fill="#222" stroke="#222" stroke-width="0.12" >0</text>
<line x1="403.40" y1="631.20" x2="403.40" y2="633.20" stroke="#555" stroke-width="1"/>
<text x="403.40" y="641.80" font-size="7" text-anchor="middle" font-style="normal" font-weight="normal" fill="#222" stroke="#222" stroke-width="0.12" >50</text>
<line x1="438.70" y1="631.20" x2="438.70" y2="633.20" stroke="#555" stroke-width="1"/>
<text x="438.70" y="641.80" font-size="7" text-anchor="middle" font-style="normal" font-weight="normal" fill="#222" stroke="#222" stroke-width="0.12" >100</text>
<line x1="474.00" y1="631.20" x2="474.00" y2="633.20" stroke="#555" stroke-width="1"/>
<text x="474.00" y="641.80" font-size="7" text-anchor="middle" font-style="normal" font-weight="normal" fill="#222" stroke="#222" stroke-width="0.12" >150</text>
<line x1="509.30" y1="631.20" x2="509.30" y2="633.20" stroke="#555" stroke-width="1"/>
<text x="509.30" y="641.80" font-size="7" text-anchor="middle" font-style="normal" font-weight="normal" fill="#222" stroke="#222" stroke-width="0.12" >200</text>
<path d="M368.10,545.30 H380.10 V545.30 H380.10 V598.56 H380.81 V598.56 H380.81 V605.43 H387.87 V605.43 H387.87 V624.33 H400.93 V624.33 H400.93 V631.20" fill="none" stroke="#d87070" stroke-width="0.8"/>
<path d="M368.10,545.30 H374.45 V545.30 H374.45 V553.89 H380.10 V553.89 H380.10 V558.19 H380.81 V558.19 H380.81 V562.48 H381.51 V562.48 H381.51 V571.07 H387.87 V571.07 H387.87 V579.66 H394.93 V579.66 H394.93 V588.25 H402.69 V588.25 H402.69 V596.84 H445.76 V596.84" fill="none" stroke="#222" stroke-width="0.9"/>
<path d="M371.95,552.89 A1.30,1.30 0 0 1 374.45,552.89 A1.30,1.30 0 0 1 376.95,552.89 L374.45,556.39 Z" fill="#000" stroke="none" stroke-width="1"/>
<path d="M377.60,557.19 A1.30,1.30 0 0 1 380.10,557.19 A1.30,1.30 0 0 1 382.60,557.19 L380.10,560.69 Z" fill="#000" stroke="none" stroke-width="1"/>
<path d="M378.31,562.34 A1.30,1.30 0 0 1 380.81,562.34 A1.30,1.30 0 0 1 383.31,562.34 L380.81,565.84 Z" fill="#000" stroke="none" stroke-width="1"/>
<path d="M379.01,570.07 A1.30,1.30 0 0 1 381.51,570.07 A1.30,1.30 0 0 1 384.01,570.07 L381.51,573.57 Z" fill="#000" stroke="none" stroke-width="1"/>
<path d="M385.09,578.66 A1.30,1.30 0 0 1 387.59,578.66 A1.30,1.30 0 0 1 390.09,578.66 L387.59,582.16 Z" fill="#000" stroke="none" stroke-width="1"/>
<path d="M392.43,587.25 A1.30,1.30 0 0 1 394.93,587.25 A1.30,1.30 0 0 1 397.43,587.25 L394.93,590.75 Z" fill="#000" stroke="none" stroke-width="1"/>
<path d="M400.19,595.84 A1.30,1.30 0 0 1 402.69,595.84 A1.30,1.30 0 0 1 405.19,595.84 L402.69,599.34 Z" fill="#000" stroke="none" stroke-width="1"/>
<path d="M443.26,595.84 A1.30,1.30 0 0 1 445.76,595.84 A1.30,1.30 0 0 1 448.26,595.84 L445.76,599.34 Z" fill="#000" stroke="none" stroke-width="1"/>
<path d="M377.60,597.56 A1.30,1.30 0 0 1 380.10,597.56 A1.30,1.30 0 0 1 382.60,597.56 L380.10,601.06 Z" fill="#000" stroke="none" stroke-width="1"/>
<path d="M378.66,604.43 A1.30,1.30 0 0 1 381.16,604.43 A1.30,1.30 0 0 1 383.66,604.43 L381.16,607.93 Z" fill="#000" stroke="none" stroke-width="1"/>
<path d="M385.37,623.33 A1.30,1.30 0 0 1 387.87,623.33 A1.30,1.30 0 0 1 390.37,623.33 L387.87,626.83 Z" fill="#000" stroke="none" stroke-width="1"/>
<path d="M398.43,629.77 A1.30,1.30 0 0 1 400.93,629.77 A1.30,1.30 0 0 1 403.43,629.77 L400.93,633.27 Z" fill="#000" stroke="none" stroke-width="1"/>
<line x1="460.80" y1="543.50" x2="471.50" y2="543.50" stroke="#333" stroke-width="1"/>
<path d="M464.10,542.58 A1.20,1.20 0 0 1 466.40,542.58 A1.20,1.20 0 0 1 468.70,542.58 L466.40,545.80 Z" fill="#000" stroke="none" stroke-width="1"/>
<line x1="460.80" y1="558.70" x2="471.50" y2="558.70" stroke="#d87070" stroke-width="1"/>
<path d="M464.10,557.78 A1.20,1.20 0 0 1 466.40,557.78 A1.20,1.20 0 0 1 468.70,557.78 L466.40,561.00 Z" fill="#000" stroke="none" stroke-width="1"/>
<text x="475.30" y="546.20" font-size="7.2" text-anchor="start" font-style="italic" font-weight="normal" fill="#222" stroke="#222" stroke-width="0.12" >GFP</text>
<text x="475.30" y="561.40" font-size="7.2" text-anchor="start" font-style="italic" font-weight="normal" fill="#222" stroke="#222" stroke-width="0.12" >shBim</text>
</svg></body></html>
